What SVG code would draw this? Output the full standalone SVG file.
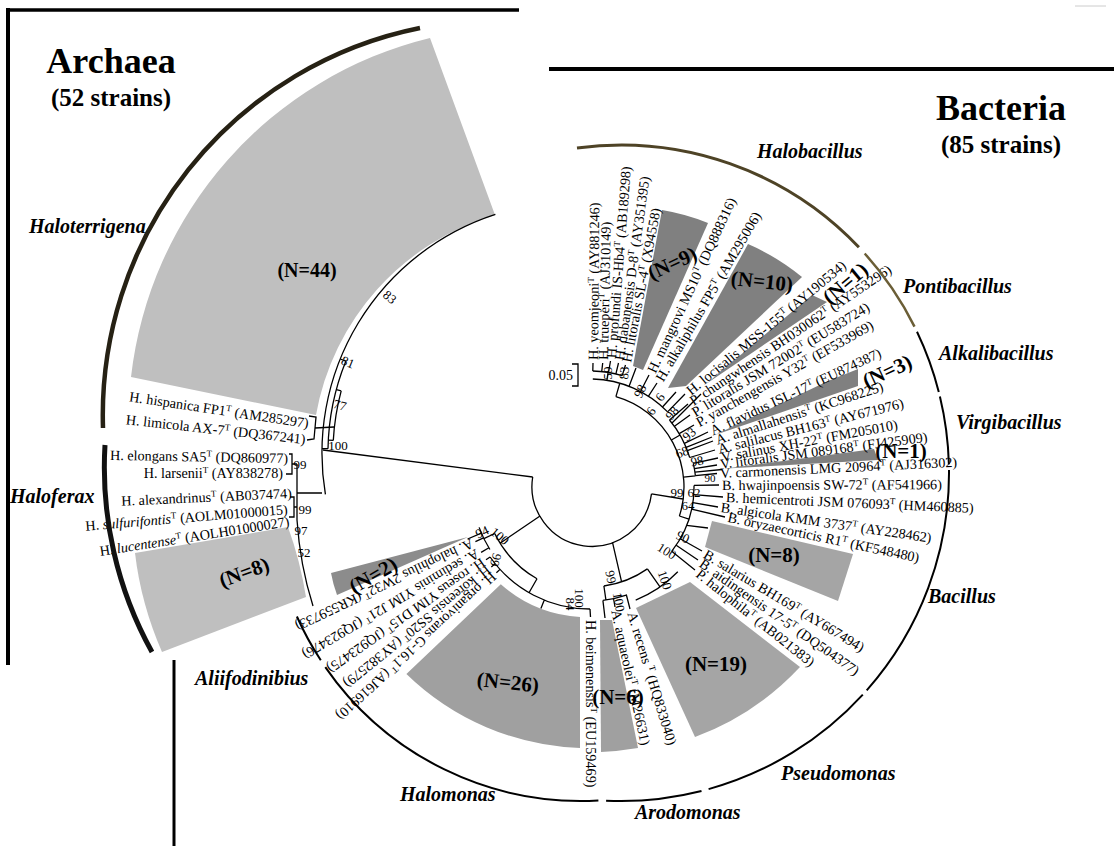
<svg xmlns="http://www.w3.org/2000/svg" width="1114" height="846" viewBox="0 0 1114 846">
<style>
.t{font-family:"Liberation Serif","Times New Roman",serif;font-size:14.2px;fill:#000}
.s{font-size:9px}
.b{font-family:"Liberation Serif","Times New Roman",serif;font-size:13px;fill:#000}
.n{font-family:"Liberation Serif","Times New Roman",serif;font-size:21px;font-weight:bold;fill:#000}
.g{font-family:"Liberation Serif","Times New Roman",serif;font-size:20px;font-weight:bold;font-style:italic;fill:#000}
.h{font-family:"Liberation Serif","Times New Roman",serif;font-weight:bold;fill:#000}
.ln{fill:none;stroke:#000;stroke-width:1.3}
.ga{fill:none;stroke:#000;stroke-width:2}
.w1{fill:#bfbfbf}
.w2{fill:#808080}
.w3{fill:#a5a5a5}
</style>
<rect width="1114" height="846" fill="#fff"/>
<g id="frame" fill="none" stroke="#000">
<path d="M8,10 H519" stroke-width="3.5"/>
<path d="M8,8 V665" stroke-width="4"/>
<path d="M549,69 H1114" stroke-width="4"/>
<path d="M174,660 V846" stroke-width="3"/>
<path d="M1075,6 H1106" stroke="#ccc" stroke-width="1"/>
</g>
<g id="titles">
<text class="h" x="111" y="73" font-size="36" text-anchor="middle">Archaea</text>
<text class="h" x="111" y="106" font-size="25" text-anchor="middle">(52 strains)</text>
<text class="h" x="1001" y="120" font-size="36" text-anchor="middle">Bacteria</text>
<text class="h" x="1001" y="153" font-size="25" text-anchor="middle">(85 strains)</text>
</g>
<g id="wedges">
<path class="w1" d="M430,38 A395,395 0 0 0 131,377 L316,415 A255,255 0 0 1 495,215 Z"/>
<path class="w1" d="M135,553 L288,527 Q300,560 306,597 L162,652 Q141,604 135,553 Z"/>
<path class="w2" d="M633,366 L662,210 Q686,214 708,223 L643,370 Z"/>
<path class="w2" d="M668,388 L748,244 Q776,256 802,277 L686,386 Z"/>
<path class="w2" d="M706,384 L812,295 L827,302 Z"/>
<path class="w2" d="M715,435 L828,381 L858,369 L858,386 Z"/>
<path class="w2" d="M726,468.5 L874,449 L878,460 Z"/>
<path class="w3" d="M712,521 L853,554 L838,601 L705,547 Z"/>
<path class="w3" d="M690,582 L800,667 A275,275 0 0 1 695,737 L636,608 Z"/>
<path fill="#a0a0a0" d="M600,620 L612,620 L638,748 Q620,751 601,752 Z"/>
<path fill="#a0a0a0" d="M580,617 L580,748 A262,262 0 0 1 406.4,673.9 L500.8,584.3 A131,131 0 0 0 580,617 Z"/>
<path fill="#8c8c8c" d="M468,537 L331,573 Q333,584 337,595 Z"/>
</g>
<g id="connectors" class="ln">
<path d="M323,450 L532.7,477"/>
<path d="M532.7,477 A60,60 0 1 0 651.5,493.8"/>
<path d="M495.4,214.3 A251,251 0 0 0 325.4,494.4"/>
<path d="M345.8,361.2 A245,245 0 0 0 328,448.7 M345.8,361.2 L340.3,359 M328,448.7 L322,448.6"/>
<path d="M341.2,390.9 A240,240 0 0 0 333.3,440.4 M341.2,390.9 L336.4,389.6 M333.3,440.4 L328.3,440.2"/>
<path d="M309,416 L316,417 L314,439 L307,440 M315,428 L334,427"/>
<path d="M322,493 L297,493 M297,464 L297,520 M289,454 L292,454 L292,474 L286,474 M292,464 L297,464 M290,497 L294,497 L294,517 L289,517 M294,507 L297,507 M297,520 Q300,565 313,606"/>
<path d="M651.5,493.8 L683,499"/>
<path d="M615.9,396.6 A94,94 0 0 1 679.4,516"/>
<path d="M615.9,396.6 L619.8,383.2 M592.8,379 A108,108 0 0 1 667.6,411.9"/>
<path d="M606.9,380.3 L608.1,372.4 M592.8,371 A116,116 0 0 1 622.2,375.6"/>
<path d="M592.8,371 L593,363 M601.7,371.6 L602.7,363 M608.5,372.5 L610.5,361 M615.9,373.9 L618.5,363 M622.2,375.6 L625.5,365"/>
<path d="M629.1,386.3 L636,368 M640.5,391.5 L649,375 M648.5,396.2 L657,383 M662.5,407 L676,392 M667.6,411.9 L685,394"/>
<path d="M671.4,440 L680.1,435 M669.5,420 A104,104 0 0 1 689.7,457.5"/>
<path d="M669.5,420 L688,404 M672,423 L701,394 M674.5,426.3 L690,415 M679.2,433.6 L694,425 M684.4,443.4 L708,432 M686.1,447.4 L712,437 M687.4,450.6 L713,441 M689.7,457.5 L715,450"/>
<path d="M683.5,477.2 L695.4,475.9 M693.3,463.3 A106,106 0 0 1 695.4,475.7"/>
<path d="M693.3,463.3 L718,458 M694.4,468.6 L717,465 M695,472.2 L722,469.5 M695.4,475.7 L717,473.5"/>
<path d="M679.4,516 L688.9,519.1 M694,485.4 A104,104 0 0 1 671.7,551.3"/>
<path d="M694,485.4 L719,485 M693.7,494.6 L723,497 M692.8,502.7 L718,507 M691.6,509.2 L725,517 M686.6,525.4 L708,528 M680.2,538.8 L702,551 M676.2,545.2 L698,560 M671.7,551.3 L695,570"/>
<path d="M612.5,542.4 L621.6,581.9 M647.4,568.9 A100,100 0 0 1 603.9,586"/>
<path d="M647.4,568.9 L660,586.9 M677.8,571.8 A122,122 0 0 1 635.7,600.1"/>
<path d="M603.9,586 L605.9,599.9 M627.1,594.8 A114,114 0 0 1 602.9,600.3 M626.4,595 L630,609 M613.5,598.5 L615,607 M602.9,600.3 L605,618"/>
<path d="M540,516 L500.1,543.2 M537,578.8 A106,106 0 0 1 494.7,533.5"/>
<path d="M494.7,533.5 L483.9,538.7 M489.9,549.5 A118,118 0 0 1 479.1,527.4 M488.9,547.8 L481.1,552.4 M483.5,537.8 L475.4,541.7 M481.4,533.1 L467.6,539"/>
<path d="M537,578.8 L529,592.7 M590,609 A122,122 0 0 1 490.1,557 M590,609 L590.5,617 M544.3,600.1 L540.9,608.5 M490.1,557 L486,559.8 M495.2,563.8 L491.3,566.9 M500,569.4 L496.4,572.8"/>
<path d="M572,364 L578,364 L578,386 L572,386"/>
</g>
<g id="archaea-leaves">
<text class="t" x="308" y="428" text-anchor="end" transform="rotate(8.5 308 428)">H. hispanica FP1<tspan class="s" dy="-5">T</tspan><tspan dy="5"> (AM285297)</tspan></text>
<text class="t" x="305" y="444" text-anchor="end" transform="rotate(6.3 305 444)">H. limicola AX-7<tspan class="s" dy="-5">T</tspan><tspan dy="5"> (DQ367241)</tspan></text>
<text class="t" x="288" y="463" text-anchor="end" transform="rotate(1 288 463)">H. elongans SA5<tspan class="s" dy="-5">T</tspan><tspan dy="5"> (DQ860977)</tspan></text>
<text class="t" x="283" y="478" text-anchor="end">H. larsenii<tspan class="s" dy="-5">T</tspan><tspan dy="5"> (AY838278)</tspan></text>
<text class="t" x="292" y="498" text-anchor="end" transform="rotate(-2.6 292 498)">H. alexandrinus<tspan class="s" dy="-5">T</tspan><tspan dy="5"> (AB037474)</tspan></text>
<text class="t" x="288" y="514" text-anchor="end" transform="rotate(-4.7 288 514)">H. <tspan font-style="italic">sulfurifontis</tspan><tspan class="s" dy="-5">T</tspan><tspan dy="5"> (AOLM01000015)</tspan></text>
<text class="t" x="290" y="526" text-anchor="end" transform="rotate(-9 290 526)">H. <tspan font-style="italic">lucentense</tspan><tspan class="s" dy="-5">T</tspan><tspan dy="5"> (AOLH01000027)</tspan></text>
</g>
<g id="bacteria-leaves">
<text class="t" x="593" y="360" dy="0.35em" transform="rotate(-89.5 593 360)">H. yeomjeoni<tspan class="s" dy="-5">T</tspan><tspan dy="5"> (AY881246)</tspan></text>
<text class="t" x="603" y="360" dy="0.35em" transform="rotate(-88.8 603 360)">H. trueperi<tspan class="s" dy="-5">T</tspan><tspan dy="5"> (AJ310149)</tspan></text>
<text class="t" x="611" y="358" dy="0.35em" transform="rotate(-85.5 611 358)">H. profundi IS-Hb4<tspan class="s" dy="-5">T</tspan><tspan dy="5"> (AB189298)</tspan></text>
<text class="t" x="619" y="360" dy="0.35em" transform="rotate(-82 619 360)">H. dabanensis D-8<tspan class="s" dy="-5">T</tspan><tspan dy="5"> (AY351395)</tspan></text>
<text class="t" x="626" y="362" dy="0.35em" transform="rotate(-79 626 362)">H. litoralis SL-4<tspan class="s" dy="-5">T</tspan><tspan dy="5"> (X94558)</tspan></text>
<text class="t" x="651" y="372" dy="0.35em" transform="rotate(-65 651 372)">H. mangrovi MS10<tspan class="s" dy="-5">T</tspan><tspan dy="5"> (DQ888316)</tspan></text>
<text class="t" x="659" y="380" dy="0.35em" transform="rotate(-59.5 659 380)">H. alkaliphilus FP5<tspan class="s" dy="-5">T</tspan><tspan dy="5"> (AM295006)</tspan></text>
<text class="t" x="688" y="392" dy="0.35em" transform="rotate(-39.5 688 392)">H. locisalis MSS-155<tspan class="s" dy="-5">T</tspan><tspan dy="5"> (AY190534)</tspan></text>
<text class="t" x="691" y="402" dy="0.35em" transform="rotate(-34 691 402)">P. chungwhensis BH030062<tspan class="s" dy="-5">T</tspan><tspan dy="5"> (AY553296)</tspan></text>
<text class="t" x="693" y="413" dy="0.35em" transform="rotate(-31.5 693 413)">P. litoralis JSM 72002<tspan class="s" dy="-5">T</tspan><tspan dy="5"> (EU583724)</tspan></text>
<text class="t" x="697" y="423" dy="0.35em" transform="rotate(-29.5 697 423)">P. yanchengensis Y32<tspan class="s" dy="-5">T</tspan><tspan dy="5"> (EF533969)</tspan></text>
<text class="t" x="711" y="431" dy="0.35em" transform="rotate(-25 711 431)">A. flavidus ISL-17<tspan class="s" dy="-5">T</tspan><tspan dy="5"> (EU874387)</tspan></text>
<text class="t" x="716" y="440" dy="0.35em" transform="rotate(-18 716 440)">A. almallahensis<tspan class="s" dy="-5">T</tspan><tspan dy="5"> (KC968225)</tspan></text>
<text class="t" x="718" y="449" dy="0.35em" transform="rotate(-14 718 449)">A. salilacus BH163<tspan class="s" dy="-5">T</tspan><tspan dy="5"> (AY671976)</tspan></text>
<text class="t" x="721" y="457" dy="0.35em" transform="rotate(-10.5 721 457)">V. salinus XH-22<tspan class="s" dy="-5">T</tspan><tspan dy="5"> (FM205010)</tspan></text>
<text class="t" x="720" y="464" dy="0.35em" transform="rotate(-7.5 720 464)">V. litoralis JSM 089168<tspan class="s" dy="-5">T</tspan><tspan dy="5"> (FJ425909)</tspan></text>
<text class="t" x="720" y="473" dy="0.35em" transform="rotate(-2.7 720 473)">V. carmonensis LMG 20964<tspan class="s" dy="-5">T</tspan><tspan dy="5"> (AJ316302)</tspan></text>
<text class="t" x="722" y="485" dy="0.35em" transform="rotate(-0.2 722 485)">B. hwajinpoensis SW-72<tspan class="s" dy="-5">T</tspan><tspan dy="5"> (AF541966)</tspan></text>
<text class="t" x="726" y="497" dy="0.35em" transform="rotate(2.5 726 497)">B. hemicentroti JSM 076093<tspan class="s" dy="-5">T</tspan><tspan dy="5"> (HM460885)</tspan></text>
<text class="t" x="721" y="507" dy="0.35em" transform="rotate(8.3 721 507)">B. algicola KMM 3737<tspan class="s" dy="-5">T</tspan><tspan dy="5"> (AY228462)</tspan></text>
<text class="t" x="728" y="517" dy="0.35em" transform="rotate(12 728 517)">B. oryzaecorticis R1<tspan class="s" dy="-5">T</tspan><tspan dy="5"> (KF548480)</tspan></text>
<text class="t" x="705" y="553" dy="0.35em" transform="rotate(31 705 553)">B. salarius BH169<tspan class="s" dy="-5">T</tspan><tspan dy="5"> (AY667494)</tspan></text>
<text class="t" x="701" y="562" dy="0.35em" transform="rotate(35 701 562)">B. aidingensis 17-5<tspan class="s" dy="-5">T</tspan><tspan dy="5"> (DQ504377)</tspan></text>
<text class="t" x="698" y="572" dy="0.35em" transform="rotate(38.5 698 572)">P. halophila<tspan class="s" dy="-5">T</tspan><tspan dy="5"> (AB021383)</tspan></text>
<text class="t" x="632" y="612" dy="0.35em" transform="rotate(73 632 612)">A. recens <tspan class="s" dy="-5">T</tspan><tspan dy="5"> (HQ833040)</tspan></text>
<text class="t" x="616" y="610" dy="0.35em" transform="rotate(77.5 616 610)">A. aquaeolei<tspan class="s" dy="-5">T</tspan><tspan dy="5"> (M26631)</tspan></text>
<text class="t" x="591" y="620" dy="0.35em" transform="rotate(90 591 620)">H. beimenensis<tspan class="s" dy="-5">T</tspan><tspan dy="5"> (EU159469)</tspan></text>
<text class="t" x="472.7" y="543" dy="0.35em" transform="rotate(154.5 472.7 543)">A. halophilus 2W32<tspan class="s" dy="-5">T</tspan><tspan dy="5"> (KR559733)</tspan></text>
<text class="t" x="478" y="553" dy="0.35em" transform="rotate(149.5 478 553)">A. sediminis YIM J21<tspan class="s" dy="-5">T</tspan><tspan dy="5"> (JQ923476)</tspan></text>
<text class="t" x="483.5" y="561.6" dy="0.35em" transform="rotate(145 483.5 561.6)">H. roseus YIM D15<tspan class="s" dy="-5">T</tspan><tspan dy="5"> (JQ923475)</tspan></text>
<text class="t" x="489" y="568.8" dy="0.35em" transform="rotate(141 489 568.8)">H. koreensis SS20<tspan class="s" dy="-5">T</tspan><tspan dy="5"> (AY382579)</tspan></text>
<text class="t" x="494.2" y="574.8" dy="0.35em" transform="rotate(137.5 494.2 574.8)">H. organivorans G-16.1<tspan class="s" dy="-5">T</tspan><tspan dy="5"> (AJ616910)</tspan></text>
</g>
<g id="bootstrap" class="b" text-anchor="middle">
<text x="390" y="297" dy="0.35em" transform="rotate(40 390 297)">83</text>
<text x="348" y="362" dy="0.35em" transform="rotate(22 348 362)">81</text>
<text x="340" y="405" dy="0.35em" transform="rotate(15 340 405)">77</text>
<text x="338" y="445" dy="0.35em">100</text>
<text x="300" y="464" dy="0.35em">99</text>
<text x="305" y="509" dy="0.35em">99</text>
<text x="301" y="530" dy="0.35em">97</text>
<text x="304" y="552" dy="0.35em">52</text>
<text x="607" y="373" dy="0.35em" transform="rotate(-90 607 373)">59</text>
<text x="624" y="373" dy="0.35em" transform="rotate(-85 624 373)">83</text>
<text x="640" y="391" dy="0.35em" transform="rotate(-65 640 391)">98</text>
<text x="651" y="411" dy="0.35em" transform="rotate(-55 651 411)">6</text>
<text x="660" y="397" dy="0.35em" transform="rotate(-55 660 397)">6</text>
<text x="672" y="413" dy="0.35em" transform="rotate(-50 672 413)">98</text>
<text x="689" y="434" dy="0.35em" transform="rotate(-40 689 434)">93</text>
<text x="682" y="452" dy="0.35em" transform="rotate(-20 682 452)">68</text>
<text x="697" y="461" dy="0.35em" transform="rotate(-10 697 461)">98</text>
<text x="710" y="478" dy="0.35em" style="font-size:11px">90</text>
<text x="677" y="492" dy="0.35em">99</text>
<text x="694" y="492" dy="0.35em">62</text>
<text x="688" y="505" dy="0.35em">64</text>
<text x="683" y="537" dy="0.35em" transform="rotate(25 683 537)">90</text>
<text x="667" y="551" dy="0.35em" transform="rotate(32 667 551)">100</text>
<text x="665" y="580" dy="0.35em" transform="rotate(70 665 580)">100</text>
<text x="611" y="577" dy="0.35em" transform="rotate(78 611 577)">99</text>
<text x="619" y="602" dy="0.35em" transform="rotate(80 619 602)">100</text>
<text x="580" y="598" dy="0.35em" transform="rotate(90 580 598)">100</text>
<text x="571" y="604" dy="0.35em" transform="rotate(90 571 604)">84</text>
<text x="482" y="532" dy="0.35em" transform="rotate(-25 482 532)">94</text>
<text x="500" y="536" dy="0.35em" transform="rotate(40 500 536)">100</text>
<text x="496" y="560" dy="0.35em" transform="rotate(105 496 560)">99</text>
<text x="573" y="380" text-anchor="end" style="font-size:14px">0.05</text>
</g>
<g id="genus-arcs">
<path d="M420,28 A395,395 0 0 0 103,428" fill="none" stroke="#262114" stroke-width="4.5"/>
<path d="M105,445 A381,381 0 0 0 152,652" fill="none" stroke="#111" stroke-width="5"/>
<path d="M577,148 A328,328 0 0 1 858.9,247.2" fill="none" stroke="#4e4326" stroke-width="3"/>
<path d="M864.7,253.5 A328,328 0 0 1 914.5,326.6" fill="none" stroke="#6b5e36" stroke-width="2.5"/>
<path class="ga" d="M917,331.8 A328,328 0 0 1 938.8,392"/>
<path class="ga" d="M939.9,396.4 A328,328 0 0 1 948.9,464.4"/>
<path class="ga" d="M949,470.1 A328,328 0 0 1 866.7,690.3"/>
<path class="ga" d="M862.8,694.6 A328,328 0 0 1 708.6,789.1"/>
<path class="ga" d="M701.5,791 A328,328 0 0 1 606.1,800.7"/>
<path class="ga" d="M598.4,800.5 A311,311 0 0 1 325.3,667.1"/>
<path class="ga" d="M320.8,660.3 A311,311 0 0 1 296.9,616.5"/>
</g>
<g id="cluster-counts" class="n" text-anchor="middle">
<text x="307" y="277" style="font-size:20px">(N=44)</text>
<text x="244" y="572" dy="0.35em" transform="rotate(-20 244 572)">(N=8)</text>
<text x="373" y="575" dy="0.35em" transform="rotate(-30 373 575)">(N=2)</text>
<text x="508" y="682" dy="0.35em" transform="rotate(6 508 682)">(N=26)</text>
<text x="618" y="697" dy="0.35em">(N=6)</text>
<text x="716" y="664" dy="0.35em">(N=19)</text>
<text x="774" y="555" dy="0.35em">(N=8)</text>
<text x="901" y="451" dy="0.35em">(N=1)</text>
<text x="887" y="371" dy="0.35em" transform="rotate(-25 887 371)">(N=3)</text>
<text x="845" y="283" dy="0.35em" transform="rotate(-40 845 283)">(N=1)</text>
<text x="762" y="281" dy="0.35em" transform="rotate(6 762 281)">(N=10)</text>
<text x="672" y="263" dy="0.35em" transform="rotate(-25 672 263)">(N=9)</text>
</g>
<g id="genus-labels" class="g">
<text x="29" y="233">Haloterrigena</text>
<text x="10" y="503">Haloferax</text>
<text x="195" y="685">Aliifodinibius</text>
<text x="400" y="801">Halomonas</text>
<text x="635" y="819">Arodomonas</text>
<text x="781" y="780">Pseudomonas</text>
<text x="928" y="603">Bacillus</text>
<text x="956" y="429">Virgibacillus</text>
<text x="939" y="360">Alkalibacillus</text>
<text x="903" y="293">Pontibacillus</text>
<text x="757" y="158">Halobacillus</text>
</g>
</svg>
